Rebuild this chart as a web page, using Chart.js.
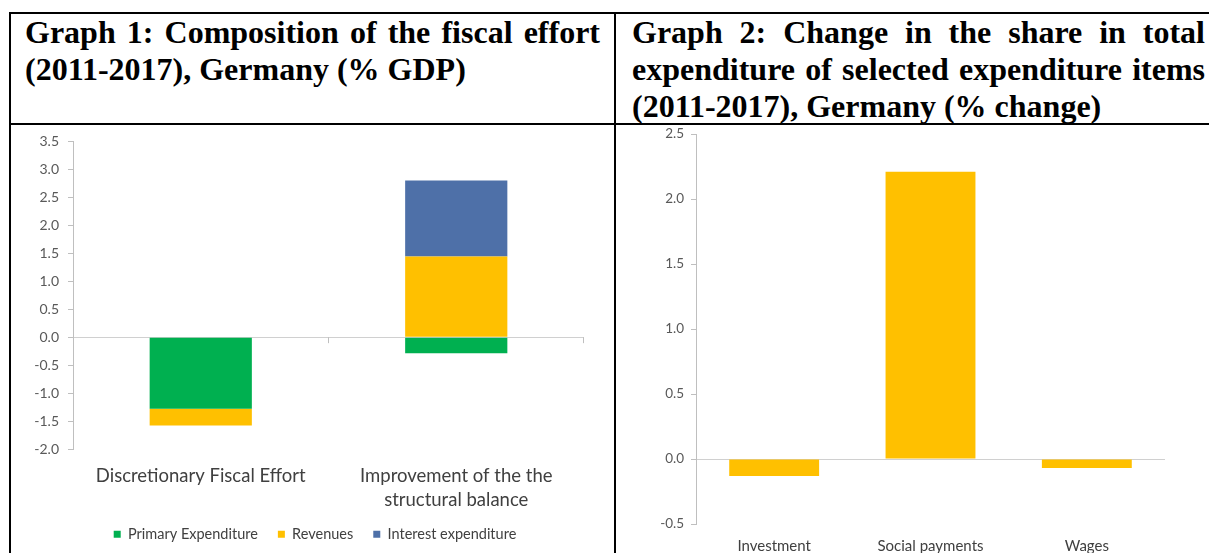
<!DOCTYPE html>
<html><head><meta charset="utf-8">
<script src="https://cdn.jsdelivr.net/npm/chart.js@4.4.1/dist/chart.umd.min.js"></script>
<style>
html,body{margin:0;padding:0;background:#fff;width:1209px;height:553px;overflow:hidden;position:relative}
.ln{position:absolute;background:#000}
.title{position:absolute;font-family:"Liberation Serif","Times New Roman",serif;font-weight:bold;font-size:32px;line-height:37px;color:#000}
.j{text-align:justify;text-align-last:justify}
canvas{position:absolute;display:block}
</style></head><body>
<div class="ln" style="left:9px;top:12px;width:1200px;height:2px"></div>
<div class="ln" style="left:9px;top:12px;width:2px;height:541px"></div>
<div class="ln" style="left:614px;top:12px;width:2px;height:541px"></div>
<div class="ln" style="left:9px;top:123px;width:1200px;height:2px"></div>

<div class="title" style="left:25px;top:14px;width:575px">
  <div class="j">Graph 1: Composition of the fiscal effort</div>
  <div>(2011-2017), Germany (% GDP)</div>
</div>
<div class="title" style="left:632px;top:14px;width:573px">
  <div class="j">Graph 2: Change in the share in total</div>
  <div class="j">expenditure of selected expenditure items</div>
  <div>(2011-2017), Germany (% change)</div>
</div>

<canvas id="c1" width="603" height="429" style="left:11px;top:124px"></canvas>
<canvas id="c2" width="592" height="434" style="left:617px;top:119px"></canvas>

<script>
// ---- Graph 1 data ----
const categories1 = ['Discretionary Fiscal Effort', ['Improvement of the the', 'structural balance']];
const seriesNames1 = ['Primary Expenditure', 'Revenues', 'Interest expenditure'];
const primaryExpenditure = [-1.28, -0.29];
const revenues = [-0.30, 1.44];
const interestExpenditure = [0, 1.36];
const yRange1 = [-2.0, 3.5];
const yStep1 = 0.5;

// ---- Graph 2 data ----
const categories2 = ['Investment', 'Social payments', 'Wages'];
const shareChange = [-0.13, 2.21, -0.07];
const yRange2 = [-0.5, 2.5];
const yStep2 = 0.5;

const FONT = 'Lato, "Open Sans", sans-serif';
const TICK_COLOR = '#595959';
const LABEL_COLOR = '#404040';
const AXIS_COLOR = '#BFBFBF';
const ZERO_COLOR = '#D0D0D0';
const GREEN = '#00B050', YELLOW = '#FFC000', BLUE = '#4E70A8';

Chart.defaults.font.family = FONT;

const boundaryTicks = {
  id: 'boundaryTicks',
  afterDatasetsDraw(chart) {
    const xs = chart.scales.x, ys = chart.scales.y, ctx = chart.ctx;
    const y0 = ys.getPixelForValue(0);
    const n = chart.data.labels.length;
    const w = (xs.right - xs.left) / n;
    ctx.save();
    ctx.strokeStyle = AXIS_COLOR;
    ctx.lineWidth = 1;
    for (let i = 1; i <= n; i++) {
      const px = Math.round(xs.left + w * i) - 0.5;
      ctx.beginPath();
      ctx.moveTo(px, y0);
      ctx.lineTo(px, y0 + 6);
      ctx.stroke();
    }
    ctx.restore();
  }
};

const zeroGrid = c => (c.tick && Math.abs(c.tick.value) < 1e-9) ? ZERO_COLOR : 'rgba(0,0,0,0)';

new Chart(document.getElementById('c1'), {
  type: 'bar',
  data: {
    labels: categories1,
    datasets: [
      { label: seriesNames1[0], data: primaryExpenditure, backgroundColor: GREEN },
      { label: seriesNames1[1], data: revenues, backgroundColor: YELLOW },
      { label: seriesNames1[2], data: interestExpenditure, backgroundColor: BLUE }
    ]
  },
  options: {
    responsive: false,
    animation: false,
    barPercentage: 0.4,
    categoryPercentage: 1,
    layout: { padding: { left: 22, right: 17, top: 0, bottom: 1.5 } },
    scales: {
      x: {
        stacked: true,
        grid: { display: false, drawTicks: false },
        border: { display: false },
        ticks: { color: LABEL_COLOR, font: { size: 18.5, lineHeight: 24 / 18.5 }, padding: 15, maxRotation: 0, autoSkip: false },
        afterFit: s => { s.height = 58; }
      },
      y: {
        stacked: true,
        min: yRange1[0], max: yRange1[1],
        ticks: { stepSize: yStep1, color: TICK_COLOR, font: { size: 14 }, padding: 9,
                 callback: v => Number(v).toFixed(1) },
        grid: { color: zeroGrid, tickColor: AXIS_COLOR, tickLength: 5, lineWidth: 1 },
        border: { color: AXIS_COLOR },
        afterFit: s => { s.width = 40; }
      },
      spacer: {
        type: 'linear',
        position: 'right',
        grid: { display: false, drawTicks: false },
        border: { display: false },
        ticks: { display: false },
        afterFit: s => { s.width = 13; }
      }
    },
    plugins: {
      legend: {
        position: 'bottom',
        labels: { boxWidth: 7, boxHeight: 7, padding: 20, color: LABEL_COLOR, font: { size: 14.5 } }
      },
      tooltip: { enabled: false }
    }
  },
  plugins: [boundaryTicks]
});

new Chart(document.getElementById('c2'), {
  type: 'bar',
  data: {
    labels: categories2,
    datasets: [{ label: 'Change in share', data: shareChange, backgroundColor: YELLOW }]
  },
  options: {
    responsive: false,
    animation: false,
    barPercentage: 0.575,
    categoryPercentage: 1,
    layout: { padding: { left: 0, right: 44, top: 0, bottom: 0 } },
    scales: {
      x: {
        grid: { display: false, drawTicks: false },
        border: { display: false },
        ticks: { color: LABEL_COLOR, font: { size: 15 }, padding: 13, maxRotation: 0, autoSkip: false },
        afterFit: s => { s.height = 29; }
      },
      y: {
        min: yRange2[0], max: yRange2[1],
        ticks: { stepSize: yStep2, color: TICK_COLOR, font: { size: 13.5 }, padding: 7,
                 callback: v => Number(v).toFixed(1) },
        grid: { color: zeroGrid, tickColor: AXIS_COLOR, tickLength: 5, lineWidth: 1 },
        border: { color: AXIS_COLOR },
        afterFit: s => { s.width = 79; }
      }
    },
    plugins: { legend: { display: false }, tooltip: { enabled: false } }
  }
});
</script>
</body></html>
